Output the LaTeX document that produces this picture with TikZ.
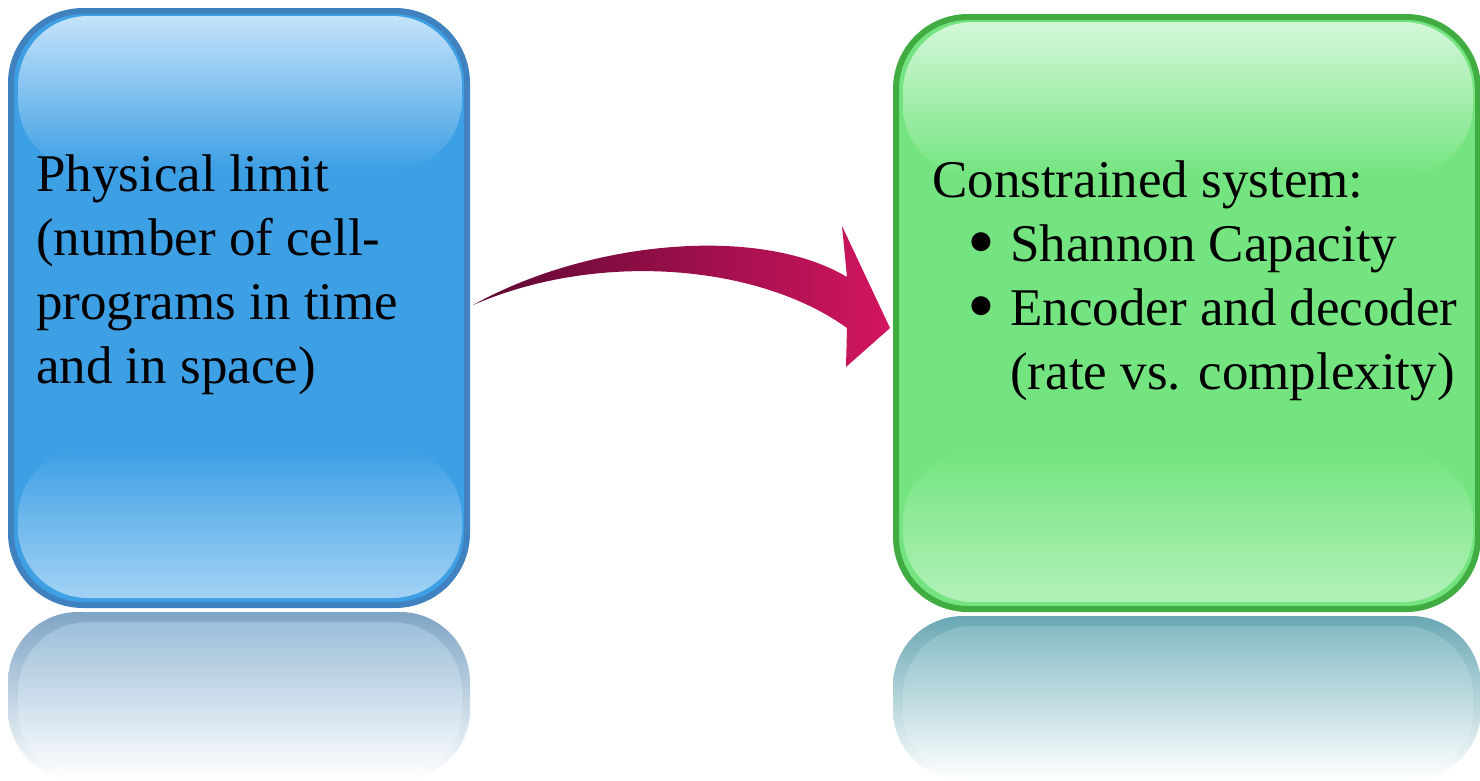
\documentclass[tikz,border=0pt]{standalone}
\usepackage{fontspec}
\setmainfont{Liberation Serif}
\usepackage{xcolor}
\usepackage{graphicx}
\usepackage{tikz}
\usetikzlibrary{calc}
\definecolor{boxblue}{HTML}{3D9FE4}
\definecolor{boxblueedge}{HTML}{3F82BF}
\definecolor{boxbluehi}{HTML}{C4E3F9}
\definecolor{boxbluelo}{HTML}{A3D3F5}
\definecolor{boxblueref}{HTML}{7FA5C5}
\definecolor{boxblueref2}{HTML}{9DBFD9}
\definecolor{boxgreen}{HTML}{74E480}
\definecolor{boxgreenedge}{HTML}{40AC42}
\definecolor{boxgreenhi}{HTML}{D4F8D9}
\definecolor{boxgreenlo}{HTML}{B2F1B9}
\definecolor{boxgreenref}{HTML}{69A8B4}
\definecolor{boxgreenref2}{HTML}{86BCC5}
\definecolor{arrowdark}{HTML}{5E0833}
\definecolor{arrowmid}{HTML}{BE1558}
\definecolor{arrowpink}{HTML}{D2155F}

\begin{document}
\begin{tikzpicture}[x=1pt, y=-1pt,
  glossbox/.style={draw, line width=6pt, rounded corners=72pt},
  gloss/.style={rounded corners=70pt},
  boxtext/.style={anchor=north west, inner sep=0pt, align=left,
    font=\fontsize{53}{64}\selectfont}]
  \useasboundingbox (0,0) rectangle (1480,780);
  % reflections
  \shade[gloss, top color=boxblueref, bottom color=white] (8,612) rectangle (470,780);
  \shade[gloss, top color=boxblueref2, bottom color=white] (18,622) rectangle (462,780);
  \shade[gloss, top color=boxgreenref, bottom color=white] (893,616) rectangle (1481,780);
  \shade[gloss, top color=boxgreenref2, bottom color=white] (903,626) rectangle (1473,780);
  % left box
  \node[glossbox, draw=boxblueedge, fill=boxblue,
        minimum width=456pt, minimum height=594pt] (phys) at (239,308) {};
  \shade[gloss, top color=boxbluehi, bottom color=boxblue] (18,16) rectangle (462,170);
  \shade[gloss, top color=boxblue, bottom color=boxbluelo] (18,448) rectangle (462,598);
  \node[boxtext] (physlabel) at (36,155)
    {Physical limit\\(number of cell-\\programs in time\\and in space)};
  % right box
  \node[glossbox, draw=boxgreenedge, fill=boxgreen,
        minimum width=582pt, minimum height=592pt] (cons) at (1187,313) {};
  \shade[gloss, top color=boxgreenhi, bottom color=boxgreen] (903,22) rectangle (1473,176);
  \shade[gloss, top color=boxgreen, bottom color=boxgreenlo] (903,452) rectangle (1473,602);
  \node[boxtext] (conslabel) at (932,161)
    {Constrained system:\\
     \hspace*{78pt}\llap{\raisebox{-7pt}{\scalebox{1.5}{\textbullet}}\hspace{15pt}}Shannon Capacity\\
     \hspace*{78pt}\llap{\raisebox{-7pt}{\scalebox{1.5}{\textbullet}}\hspace{15pt}}Encoder and decoder\\
     \hspace*{78pt}(rate vs. complexity)};
  % curved arrow
  \coordinate (tail) at ($(phys.east)+(3,-3)$);
  \coordinate (tip) at ($(cons.west)+(-3,15)$);
  \shade[left color=arrowdark, middle color=arrowmid, right color=arrowpink]
    (tail) .. controls ($(tail)+(117,-65)$) and ($(tail)+(287,-80)$) .. ($(tail)+(374,-28)$)
    -- ($(tip)+(-48,-102)$) -- (tip) -- ($(tip)+(-44,39)$) -- ($(tip)+(-43,0)$)
    .. controls ($(tail)+(287,-40)$) and ($(tail)+(127,-55)$) .. (tail) -- cycle;
\end{tikzpicture}
\end{document}
